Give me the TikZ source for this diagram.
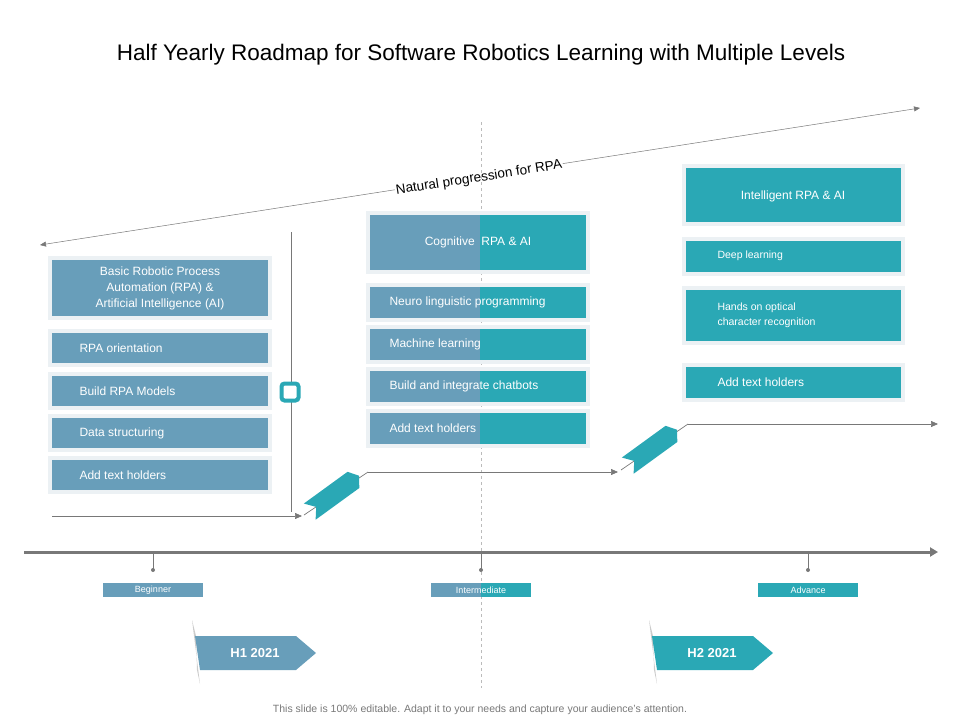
\documentclass[tikz,border=0pt]{standalone}
\usepackage{fontspec}
\setmainfont{Liberation Sans}
\usetikzlibrary{arrows.meta}
\definecolor{rpablue}{RGB}{104,158,186}
\definecolor{rpateal}{RGB}{42,168,181}
\definecolor{rpaframe}{RGB}{236,241,244}
\definecolor{rpagray}{RGB}{120,120,120}
\begin{document}
\begin{tikzpicture}[x=1pt,y=-1pt]
\tikzset{lvlbox/.style={fill=#1, draw=rpaframe, line width=3pt}}
\tikzset{lvltext/.style={text=white, font=\fontsize{12}{14}\selectfont, anchor=west}}
\tikzset{flow/.style={draw=rpagray, line width=0.7pt, -{Triangle[length=7pt,width=6pt]}}}
\tikzset{chev/.style={fill=rpateal}}
\useasboundingbox (0,0) rectangle (960,720);
% title
\node (title) at (481,55) {\fontsize{22.5}{26}\selectfont Half Yearly Roadmap for Software Robotics Learning with Multiple Levels};
% progression arrow
\coordinate (pl) at (40,245);
\coordinate (pr) at (920,108);
\draw[rpagray, line width=0.5pt, {Triangle[length=6pt,width=5pt]}-{Triangle[length=6pt,width=5pt]}] (pl) -- (pr);
\node (prog) [rotate=8.85, fill=white, inner sep=1pt] at (479,178) {\fontsize{13.5}{16}\selectfont Natural progression for RPA};
% dashed centre line
\draw[rpagray!50, dashed, line width=0.5pt] (481,122) -- (481,688);
% beginner column
\fill[rpaframe] (48,256) rectangle (272,320);
\fill[rpablue] (52,260) rectangle (268,316);
\node (bhead) [text=white, align=center, font=\fontsize{12}{16}\selectfont] at (160,288) {Basic Robotic Process\\Automation (RPA) \&\\Artificial Intelligence (AI)};
\foreach \y/\t [count=\i] in {333/RPA orientation, 376/Build RPA Models, 418/Data structuring, 460/Add text holders} {
  \fill[rpaframe] (48,\y-4) rectangle (272,\y+34);
  \fill[rpablue] (52,\y) rectangle (268,\y+30);
  \node (b\i) [lvltext] at (76,\y+15) {\t};
}
\draw[rpagray, line width=0.7pt] (291,232) -- (291,512);
\node (mark) [draw=rpateal, fill=white, line width=4pt, rounded corners=3pt, minimum size=17pt] at (290,392) {};
% intermediate column
\fill[rpaframe] (366,211) rectangle (590,274);
\fill[rpablue] (370,215) rectangle (480,270);
\fill[rpateal] (480,215) rectangle (586,270);
\node (ihead) [text=white, font=\fontsize{12}{14}\selectfont] at (478,242) {Cognitive\ \ RPA \& AI};
\foreach \y/\t [count=\i] in {287/Neuro linguistic programming, 329/Machine learning, 371/Build and integrate chatbots, 413/Add text holders} {
  \fill[rpaframe] (366,\y-4) rectangle (590,\y+35);
  \fill[rpablue] (370,\y) rectangle (480,\y+31);
  \fill[rpateal] (480,\y) rectangle (586,\y+31);
  \node (i\i) [lvltext] at (386,\y+15) {\t};
}
% advance column
\fill[rpaframe] (682,164) rectangle (905,226);
\fill[rpateal] (686,168) rectangle (901,222);
\node (ahead) [text=white, font=\fontsize{12}{14}\selectfont] at (793,196) {Intelligent RPA \& AI};
\fill[rpaframe] (682,237) rectangle (905,276);
\fill[rpateal] (686,241) rectangle (901,272);
\node (a1) [lvltext, font=\fontsize{10.5}{12}\selectfont] at (714,256) {Deep learning};
\fill[rpaframe] (682,286) rectangle (905,345);
\fill[rpateal] (686,290) rectangle (901,341);
\node (a2) [lvltext, align=left, font=\fontsize{10.5}{15}\selectfont] at (714,315) {Hands on optical\\character recognition};
\fill[rpaframe] (682,363) rectangle (905,402);
\fill[rpateal] (686,367) rectangle (901,398);
\node (a3) [lvltext] at (714,382) {Add text holders};
% flow
\coordinate (f0) at (52,516);
\coordinate (f1) at (302,516);
\coordinate (f2) at (368,472);
\coordinate (f3) at (618,472);
\coordinate (f4) at (688,424);
\coordinate (f5) at (938,424);
\draw[flow] (f0) -- (f1);
\draw[flow] (f2) -- (f3);
\draw[flow] (f4) -- (f5);
\draw[rpagray, line width=0.7pt] (304,515) -- (f2);
\draw[rpagray, line width=0.7pt] (621,470) -- (f4);
\foreach \cx/\cy [count=\i] in {334/494, 652/448} {
  \fill[chev, shift={(\cx,\cy)}, rotate=36] (-30,-10) -- (24,-10) -- (31,0) -- (24,10) -- (-30,10) -- (-22,0) -- cycle;
}
% timeline
\draw[rpagray, line width=3pt, -{Triangle[length=8pt,width=9pt]}] (24,552) -- (938,552);
\foreach \x/\t/\c [count=\i] in {153/Beginner/rpablue, 481/Intermediate/rpablue, 808/Advance/rpateal} {
  \draw[rpagray, line width=0.7pt] (\x,552) -- (\x,570);
  \fill[rpagray] (\x,570) circle (2pt);
  \fill[\c] (\x-50,583) rectangle (\x+50,597);
}
\fill[rpateal] (481,583) rectangle (531,597);
\node (l1) [text=white, font=\fontsize{9}{10}\selectfont] at (153,590) {Beginner};
\node (l2) [text=white, font=\fontsize{9}{10}\selectfont] at (481,590) {Intermediate};
\node (l3) [text=white, font=\fontsize{9}{10}\selectfont] at (808,590) {Advance};
% half-year tags
\foreach \x/\t/\c [count=\i] in {195/H1 2021/rpablue, 652/H2 2021/rpateal} {
  \fill[gray!40] (\x-3,620) -- (\x+1,636) -- (\x+2,670) -- (\x+5,684) -- cycle;
  \fill[\c] (\x,636) -- (\x+101,636) -- (\x+121,653) -- (\x+101,670) -- (\x+5,670) -- cycle;
  \node (h\i) [text=white, font=\bfseries\fontsize{13}{15}\selectfont] at (\x+60,653) {\t};
}
% footer
\node (foot) [text=rpagray, font=\fontsize{10.5}{12}\selectfont] at (480,710) {This slide is 100\% editable. Adapt it to your needs and capture your audience's attention.};
\end{tikzpicture}
\end{document}
